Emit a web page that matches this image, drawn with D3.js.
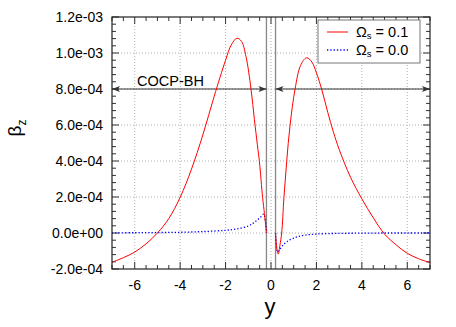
<!DOCTYPE html>
<html><head><meta charset="utf-8">
<script src="https://cdn.jsdelivr.net/npm/d3@7"></script>
<style>body{margin:0;background:#fff}svg{display:block;font-family:"Liberation Sans",Arial,sans-serif}</style>
</head><body><svg id="c" width="456" height="327"></svg>
<script>
// Data
const redX = [-7,-6.5,-6,-5.5,-5,-4.5,-4,-3.5,-3,-2.5,-2,-1.75,-1.5,-1.3,-1.1,-0.88,-0.73,-0.6,-0.51,-0.37,-0.29,-0.2];
const redY = [-1.63e-4,-1.37e-4,-1.06e-4,-6.0e-5,0,8.0e-5,1.98e-4,3.55e-4,5.45e-4,7.6e-4,9.6e-4,1.045e-3,1.082e-3,1.065e-3,9.8e-4,8.0e-4,6.3e-4,4.9e-4,3.96e-4,1.98e-4,1.09e-4,0];
const redX2 = [0.2,0.26,0.32,0.39,0.47,0.57,0.69,0.84,1.06,1.3,1.57,1.8,2.0,2.25,2.5,2.75,3,3.5,4,4.5,5,5.5,6,6.5,7];
const redY2 = [0,-9e-5,-1.17e-4,-7e-5,0,1.98e-4,3.96e-4,6.0e-4,8.0e-4,9.3e-4,9.74e-4,9.5e-4,8.9e-4,7.9e-4,6.7e-4,5.6e-4,4.65e-4,3.1e-4,1.9e-4,8.5e-5,-6e-6,-6.5e-5,-1.13e-4,-1.43e-4,-1.65e-4];
const blueX = [-7,-6,-5,-4,-3,-2,-1.5,-1,-0.8,-0.6,-0.45,-0.32,-0.2];
const blueY = [1e-6,1.5e-6,2.5e-6,4e-6,8e-6,1.5e-5,2.3e-5,3.9e-5,5.3e-5,7.3e-5,8.9e-5,1.05e-4,0];
const blueX2 = [0.2,0.29,0.35,0.47,0.6,0.76,1.0,1.2,1.5,2.0,3,4,5,6,7];
const blueY2 = [0,-1.05e-4,-9.8e-5,-7.6e-5,-5.8e-5,-4.3e-5,-2.8e-5,-2.0e-5,-1.2e-5,-6e-6,-2e-6,-1e-6,0,0,0];
const xTicks = [-6,-4,-2,0,2,4,6];
const yTicks = [-2e-4,0,2e-4,4e-4,6e-4,8e-4,1.0e-3,1.2e-3];
const vLines = [-0.2,0.2];
const legendLabels = ["0.1","0.0"];

const svg = d3.select("#c");
const L=112,R=430,T=17,B=269;
const x = d3.scaleLinear().domain([-7,7]).range([L,R]);
const y = d3.scaleLinear().domain([-2e-4,1.2e-3]).range([B,T]);
const fmt = v => v.toExponential(1).replace(/e([+-])(\d)$/,"e$10$2");

// grid
const g = svg.append("g");
xTicks.forEach(t=>g.append("line").attr("x1",x(t)).attr("x2",x(t)).attr("y1",T).attr("y2",B)
  .attr("stroke","#b0b0b0").attr("stroke-dasharray","1,2"));
yTicks.filter(t=>t>-2e-4&&t<1.2e-3).forEach(t=>g.append("line").attr("x1",L).attr("x2",R).attr("y1",y(t)).attr("y2",y(t))
  .attr("stroke","#b0b0b0").attr("stroke-dasharray","1,2"));

// ticks (inward, mirrored)
const tk = svg.append("g").attr("stroke","#333").attr("stroke-width",1);
d3.range(-7,7.01,0.5).forEach(t=>{
  const maj = Math.abs(t%2)<1e-9; const len = maj?7:4;
  tk.append("line").attr("x1",x(t)).attr("x2",x(t)).attr("y1",B).attr("y2",B-len);
  tk.append("line").attr("x1",x(t)).attr("x2",x(t)).attr("y1",T).attr("y2",T+len);
});
d3.range(-2e-4,1.2e-3+1e-9,4e-5).forEach((t,i)=>{
  const maj = i%5===0; const len = maj?7:4;
  tk.append("line").attr("y1",y(t)).attr("y2",y(t)).attr("x1",L).attr("x2",L+len);
  tk.append("line").attr("y1",y(t)).attr("y2",y(t)).attr("x1",R).attr("x2",R-len);
});

// tick labels
xTicks.forEach(t=>svg.append("text").attr("x",x(t)).attr("y",290).attr("text-anchor","middle")
  .attr("font-size",14).text(t));
yTicks.forEach(t=>svg.append("text").attr("x",103).attr("y",y(t)+5).attr("text-anchor","end")
  .attr("font-size",14).text(fmt(t)));

// axis labels
svg.append("text").attr("x",270).attr("y",314).attr("text-anchor","middle").attr("font-size",22).text("y");
const yl = svg.append("text").attr("transform","translate(21,128) rotate(-90)").attr("text-anchor","middle").attr("font-size",19);
yl.append("tspan").text("β");
yl.append("tspan").attr("font-size",12).attr("dy",5).text("z");

// vertical lines
vLines.forEach(v=>svg.append("line").attr("x1",x(v)).attr("x2",x(v)).attr("y1",T).attr("y2",B)
  .attr("stroke","#888").attr("stroke-width",1.3));

// arrows
function arrow(x1,x2,yy){
  svg.append("line").attr("x1",x1).attr("x2",x2).attr("y1",yy).attr("y2",yy).attr("stroke","#333").attr("stroke-width",1);
  [[x1,1],[x2,-1]].forEach(([px,d])=>{
    svg.append("path").attr("d",`M${px},${yy}L${px+8*d},${yy-3}L${px+6*d},${yy}L${px+8*d},${yy+3}Z`).attr("fill","#333");
  });
}
arrow(x(-7),x(-0.2),y(8e-4));
arrow(x(0.2),x(7),y(8e-4));
svg.append("text").attr("x",137).attr("y",86).attr("font-size",14.5).text("COCP-BH");

// curves
const line = d3.line().x(d=>x(d[0])).y(d=>y(d[1])).curve(d3.curveCatmullRom.alpha(0.5));
const zip=(a,b)=>a.map((v,i)=>[v,b[i]]);
[zip(blueX,blueY),zip(blueX2,blueY2)].forEach(d=>svg.append("path").attr("d",line(d)).attr("fill","none")
  .attr("stroke","#0000ff").attr("stroke-width",1.3).attr("stroke-dasharray","1.3,2"));
[zip(redX,redY),zip(redX2,redY2)].forEach(d=>svg.append("path").attr("d",line(d)).attr("fill","none")
  .attr("stroke","#ff0000").attr("stroke-width",1));

// border
svg.append("rect").attr("x",L).attr("y",T).attr("width",R-L).attr("height",B-T).attr("fill","none").attr("stroke","#222").attr("stroke-width",1.2);

// legend
svg.append("rect").attr("x",318).attr("y",20).attr("width",102).attr("height",43).attr("fill","#fff").attr("stroke","#777");
legendLabels.forEach((lab,i)=>{
  const yy = 32+i*18;
  svg.append("line").attr("x1",327).attr("x2",348).attr("y1",yy).attr("y2",yy)
    .attr("stroke",i?"#0000ff":"#ff0000").attr("stroke-width",i?1.3:1).attr("stroke-dasharray",i?"1.3,2":null);
  const t = svg.append("text").attr("x",356).attr("y",yy+5).attr("font-size",14.5);
  t.append("tspan").text("Ω");
  t.append("tspan").attr("font-size",9.5).attr("dy",2).text("s");
  t.append("tspan").attr("dy",-2).text(" = "+lab);
});
</script></body></html>
